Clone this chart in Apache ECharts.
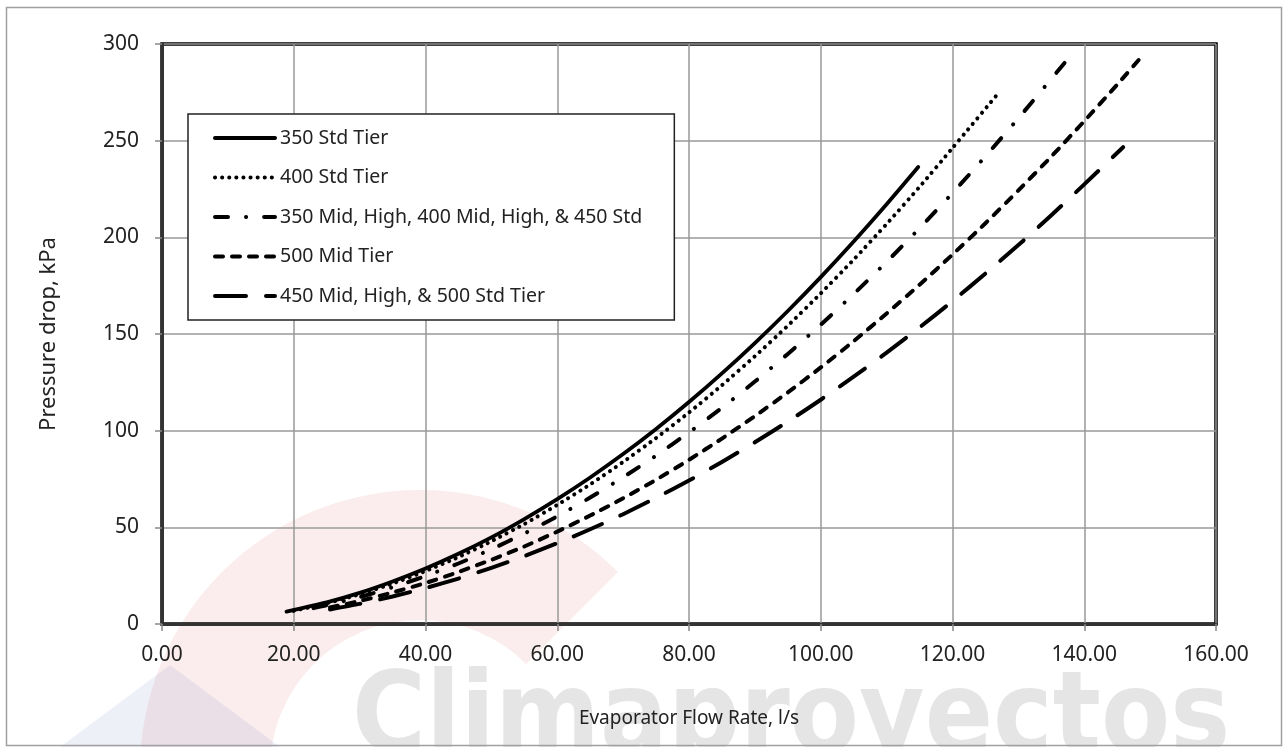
<!DOCTYPE html>
<html>
<head>
<meta charset="utf-8">
<script src="https://cdn.jsdelivr.net/npm/echarts@6/dist/echarts.min.js"></script>
<style>
html,body{margin:0;padding:0;background:#fff;}
#chart{width:1283px;height:747px;}
</style>
</head>
<body>
<div id="chart"></div>
<script>
// Series names
const seriesNames = [
  '350 Std Tier',
  '400 Std Tier',
  '350 Mid, High, 400 Mid, High, & 450 Std',
  '500 Mid Tier',
  '450 Mid, High, & 500 Std Tier'
];
// Flow rate (l/s) and pressure drop (kPa)
const s350StdFlow = [18.9,25,30,35,40,45,50,55,60,65,70,75,80,85,90,95,100,105,110,114.8];
const s350StdDp   = [6.4,11.2,16.1,22.0,28.7,36.3,44.8,54.3,64.6,75.8,87.9,100.9,114.8,129.6,145.3,161.9,179.4,197.8,217.1,236.4];

const s400StdFlow = [20,25,30,35,40,45,50,55,60,65,70,75,80,85,90,95,100,105,110,115,120,126.7];
const s400StdDp   = [6.8,10.7,15.4,20.9,27.4,34.6,42.8,51.7,61.6,72.2,83.8,96.2,109.4,123.5,138.5,154.3,171.0,188.5,206.9,226.1,246.2,273.5];

const sMidFlow = [23,25,30,35,40,45,50,55,60,65,70,75,80,85,90,95,100,105,110,115,120,125,130,137.3];
const sMidDp   = [8.2,9.7,13.9,19.0,24.8,31.3,38.7,46.8,55.7,65.4,75.9,87.1,99.1,111.8,125.4,139.7,154.8,170.7,187.3,204.7,222.9,241.9,261.6,291.4];

const s500MidFlow = [25.5,30,35,40,45,50,55,60,65,70,75,80,85,90,95,100,105,110,115,120,125,130,135,140,145,149.1];
const s500MidDp   = [8.6,11.9,16.3,21.2,26.9,33.2,40.1,47.8,56.1,65.0,74.6,84.9,95.9,107.5,119.8,132.7,146.3,160.6,175.5,191.1,207.3,224.3,241.8,260.1,279.0,295.0];

const s450MidFlow = [25.5,30,35,40,45,50,55,60,65,70,75,80,85,90,95,100,105,110,115,120,125,130,135,140,145.9];
const s450MidDp   = [7.5,10.4,14.2,18.6,23.5,29.0,35.1,41.8,49.0,56.8,65.3,74.2,83.8,94.0,104.7,116.0,127.9,140.4,153.4,167.0,181.3,196.0,211.4,227.4,246.6];

const xTicks = [0,20,40,60,80,100,120,140,160];
const yTicks = [0,50,100,150,200,250,300];

function zip(a,b){ return a.map((v,i)=>[v,b[i]]); }

const FONT = '"Noto Sans", "Open Sans", sans-serif';
const styles = [
  {type:'solid', width:3.8},
  {type:[0.1,7], width:4},
  {type:[13,18,0.1,18], width:4},
  {type:[8,9], width:4},
  {type:[31,20], width:4}
];
const dataSets = [
  zip(s350StdFlow,s350StdDp),
  zip(s400StdFlow,s400StdDp),
  zip(sMidFlow,sMidDp),
  zip(s500MidFlow,s500MidDp),
  zip(s450MidFlow,s450MidDp)
];

const chart = echarts.init(document.getElementById('chart'), null, {renderer:'canvas'});
chart.setOption({
  backgroundColor:'#fff',
  animation:false,
  graphic:[
    {type:'text', z:-10, left:352, top:666, silent:true,
     style:{text:'Climaproyectos', fill:'rgba(180,180,180,0.34)', font:'bold 112px "Liberation Sans Narrow", "DejaVu Sans Condensed", sans-serif'}},
    {type:'sector', z:-11, silent:true,
     shape:{cx:420, cy:770, r:280, r0:150, startAngle:Math.PI*1.0, endAngle:Math.PI*1.75},
     style:{fill:'rgba(220,80,80,0.10)'}},
    {type:'polygon', z:-11, silent:true,
     shape:{points:[[60,747],[170,665],[280,747]]},
     style:{fill:'rgba(90,110,190,0.10)'}},
    {type:'rect', z:-5, silent:true,
     shape:{x:6.5, y:7.5, width:1275, height:738},
     style:{fill:'none', stroke:'#a0a0a0', lineWidth:1.5}}
  ],
  grid:{left:162, right:67, top:44, bottom:123, show:true, borderColor:'#000', borderWidth:3.5, backgroundColor:'transparent'},
  legend:{
    show:true, orient:'vertical', left:188, top:114,
    padding:[14,32,14,25], itemGap:19.5, itemWidth:60, itemHeight:14,
    backgroundColor:'#fff', borderColor:'#222', borderWidth:1.5,
    itemStyle:{opacity:0},
    lineStyle:{width:4},
    textStyle:{fontFamily:FONT, fontSize:19.5, color:'#222'},
    data:seriesNames
  },
  xAxis:{
    type:'value', min:0, max:160, interval:20,
    name:'Evaporator Flow Rate, l/s', nameLocation:'middle', nameGap:85,
    nameTextStyle:{fontFamily:FONT, fontSize:19, color:'#222'},
    axisLine:{show:true, onZero:false, lineStyle:{color:'#333', width:3}},
    axisTick:{show:true, length:7, lineStyle:{color:'#888', width:1.5}},
    axisLabel:{fontFamily:FONT, fontSize:21, color:'#222', margin:21,
      formatter:function(v){ return xTicks.indexOf(v)>=0 ? v.toFixed(2) : ''; }},
    splitLine:{show:true, lineStyle:{color:'#999', width:1.5}}
  },
  yAxis:{
    type:'value', min:0, max:300, interval:50,
    name:'Pressure drop, kPa', nameLocation:'middle', nameGap:102,
    nameTextStyle:{fontFamily:FONT, fontSize:22, color:'#222'},
    axisLine:{show:true, onZero:false, lineStyle:{color:'#333', width:3}},
    axisTick:{show:true, length:7, lineStyle:{color:'#888', width:1.5}},
    axisLabel:{fontFamily:FONT, fontSize:21, color:'#222', margin:23,
      formatter:function(v){ return yTicks.indexOf(v)>=0 ? String(v) : ''; }},
    splitLine:{show:true, lineStyle:{color:'#999', width:1.5}}
  },
  series: seriesNames.map((n,i)=>({
    name:n, type:'line', data:dataSets[i], showSymbol:false, symbol:'none',
    smooth:0.2, z:3,
    lineStyle:{color:'#000', width:styles[i].width, type:styles[i].type, cap:'round', join:'round'},
    itemStyle:{color:'#000'}
  }))
});
</script>
</body>
</html>
